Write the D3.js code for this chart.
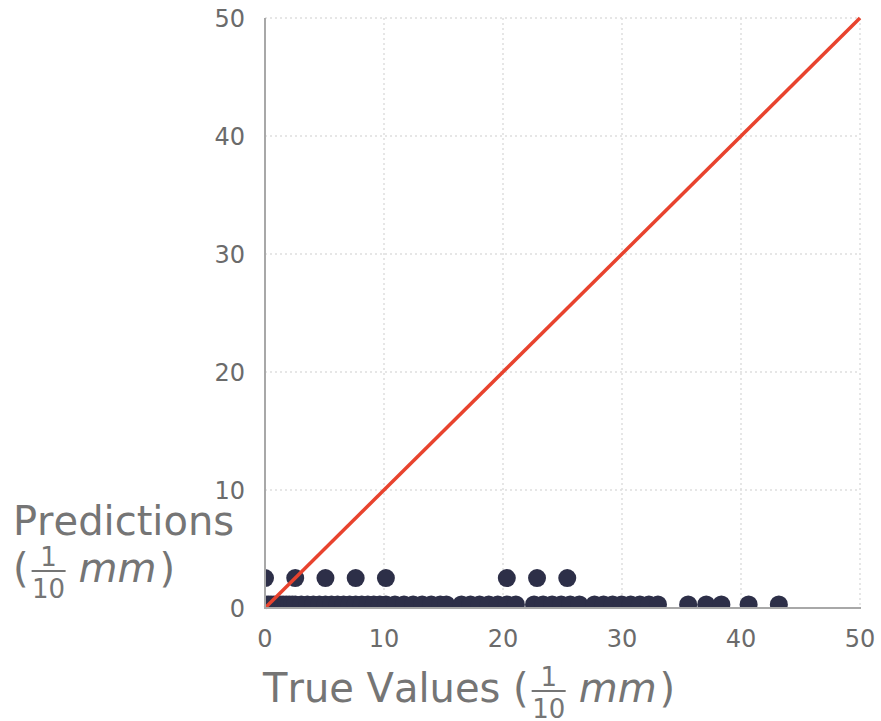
<!DOCTYPE html>
<html>
<head>
<meta charset="utf-8">
<script src="https://cdn.jsdelivr.net/npm/d3@7"></script>
<style>
  html, body { margin: 0; padding: 0; background: #fff; }
  svg { display: block; font-family: "DejaVu Sans", sans-serif; }
  .tick-label { fill: #6b6b6b; font-size: 24px; }
  .title { fill: #757575; font-size: 40px; font-kerning: none; }
</style>
</head>
<body>
<svg id="chart" width="881" height="721"></svg>
<script>
// predictions vs true values, both in 1/10 mm
const X_TICKS = [0, 10, 20, 30, 40, 50];
const Y_TICKS = [0, 10, 20, 30, 40, 50];

// rows of the scatter: almost every prediction lands near 0, a few at 2.54
const LOW_TRUE = [0, 0.25, 0.51, 0.76, 1.02, 1.27, 1.52, 1.78, 2.03, 2.29, 2.54, 3.05,
  3.56, 4.06, 4.57, 5.08, 5.59, 6.1, 6.6, 7.11, 7.62, 8.13, 8.64, 9.14, 9.65, 10.16,
  10.92, 11.68, 12.45, 13.21, 13.97, 14.73, 15.24, 16.51, 17.27, 18.03, 18.8, 19.56,
  20.32, 21.08, 22.61, 23.37, 24.13, 24.89, 25.65, 26.42, 27.69, 28.45, 29.21, 29.97,
  30.73, 31.5, 32.26, 33.02, 35.56, 37.08, 38.35, 40.64, 43.18];
const LOW_PRED = 0.3;
const HIGH_TRUE = [0, 2.54, 5.08, 7.62, 10.16, 20.32, 22.86, 25.4];
const HIGH_PRED = 2.54;

const points = LOW_TRUE.map(t => ({ t, p: LOW_PRED }))
  .concat(HIGH_TRUE.map(t => ({ t, p: HIGH_PRED })));

const svg = d3.select("#chart");
const M = { left: 265, right: 860, top: 18, bottom: 608 };

const x = d3.scaleLinear().domain([0, 50]).range([M.left, M.right]);
const y = d3.scaleLinear().domain([0, 50]).range([M.bottom, M.top]);

svg.append("clipPath").attr("id", "plot-clip")
  .append("rect")
  .attr("x", M.left).attr("y", M.top)
  .attr("width", M.right - M.left).attr("height", M.bottom - M.top);

// dotted grid
const grid = svg.append("g");
grid.selectAll("line.gx").data(X_TICKS.filter(d => d > 0)).join("line")
  .attr("x1", d => x(d)).attr("x2", d => x(d))
  .attr("y1", M.top).attr("y2", M.bottom)
  .attr("stroke", "#dedede").attr("stroke-width", 1.5).attr("stroke-dasharray", "2,3");
grid.selectAll("line.gy").data(Y_TICKS.filter(d => d > 0)).join("line")
  .attr("x1", M.left).attr("x2", M.right)
  .attr("y1", d => y(d)).attr("y2", d => y(d))
  .attr("stroke", "#dedede").attr("stroke-width", 1.5).attr("stroke-dasharray", "2,3");

// scatter
svg.append("g").attr("clip-path", "url(#plot-clip)")
  .selectAll("circle").data(points).join("circle")
  .attr("cx", d => x(d.t)).attr("cy", d => y(d.p)).attr("r", 9)
  .attr("fill", "#2d2f48");

// identity line
svg.append("line")
  .attr("x1", x(0)).attr("y1", y(0)).attr("x2", x(50)).attr("y2", y(50))
  .attr("stroke", "#e8432e").attr("stroke-width", 3.5);

// spines
svg.append("line").attr("x1", M.left).attr("x2", M.left).attr("y1", M.top).attr("y2", M.bottom + 1)
  .attr("stroke", "#a8a8a8").attr("stroke-width", 2);
svg.append("line").attr("x1", M.left - 1).attr("x2", M.right + 1).attr("y1", M.bottom).attr("y2", M.bottom)
  .attr("stroke", "#a8a8a8").attr("stroke-width", 2);

// tick labels
svg.append("g").selectAll("text").data(X_TICKS).join("text")
  .attr("class", "tick-label").attr("text-anchor", "middle")
  .attr("x", d => x(d)).attr("y", 647).text(d => d);
svg.append("g").selectAll("text").data(Y_TICKS).join("text")
  .attr("class", "tick-label").attr("text-anchor", "end")
  .attr("x", 245).attr("y", d => y(d) + 9).text(d => d);

// label with a small 1/10 fraction, drawn piece by piece
function unitLabel(x0, base, prefix) {
  const g = svg.append("g").attr("class", "title");
  let cx = x0;
  const pre = g.append("text").attr("x", cx).attr("y", base).text(prefix + "(");
  cx += pre.node().getComputedTextLength() + 3;
  const fw = 34;
  g.append("text").attr("x", cx + fw / 2).attr("y", base - 16).attr("text-anchor", "middle")
    .style("font-size", "26px").text("1");
  g.append("line").attr("x1", cx).attr("x2", cx + fw).attr("y1", base - 11).attr("y2", base - 11)
    .attr("stroke", "#757575").attr("stroke-width", 2);
  g.append("text").attr("x", cx + fw / 2).attr("y", base + 16).attr("text-anchor", "middle")
    .style("font-size", "26px").text("10");
  cx += fw + 13;
  const mm = g.append("text").attr("x", cx).attr("y", base).style("font-style", "italic").text("mm");
  cx += mm.node().getComputedTextLength() + 3;
  g.append("text").attr("x", cx).attr("y", base).text(")");
}

svg.append("text").attr("class", "title").attr("x", 13).attr("y", 535).text("Predictions");
unitLabel(13, 582, "");
unitLabel(263, 702, "True Values ");
</script>
</body>
</html>
